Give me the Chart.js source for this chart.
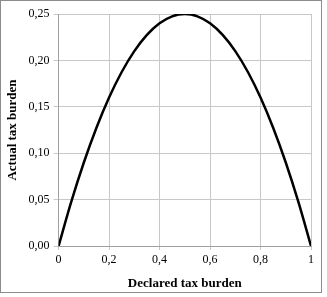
<!DOCTYPE html>
<html>
<head>
<meta charset="utf-8">
<script src="https://cdn.jsdelivr.net/npm/chart.js@4"></script>
<style>
  html, body { margin: 0; padding: 0; background: #fff; }
  #wrap { width: 322px; height: 293px; box-sizing: border-box; border: 1px solid #8c8c8c; }
</style>
</head>
<body>
<div id="wrap"><canvas id="chart" width="320" height="291"></canvas></div>
<script>
// declared tax burden (x) and actual tax burden (y)
const declared = [0, 0.05, 0.1, 0.15, 0.2, 0.25, 0.3, 0.35, 0.4, 0.45, 0.5,
                  0.55, 0.6, 0.65, 0.7, 0.75, 0.8, 0.85, 0.9, 0.95, 1];
const actual = [0, 0.0475, 0.09, 0.1275, 0.16, 0.1875, 0.21, 0.2275, 0.24, 0.2475, 0.25,
                0.2475, 0.24, 0.2275, 0.21, 0.1875, 0.16, 0.1275, 0.09, 0.0475, 0];

const points = declared.map((x, i) => ({ x: x, y: actual[i] }));
const comma = v => String(v).replace('.', ',');

Chart.defaults.font.family = '"Liberation Serif", "Times New Roman", serif';
Chart.defaults.color = '#000';

new Chart(document.getElementById('chart').getContext('2d'), {
    type: 'scatter',
    data: {
        datasets: [{
            data: points,
            showLine: true,
            borderColor: '#000',
            borderWidth: 2.5,
            pointRadius: 0,
            tension: 0.4,
            cubicInterpolationMode: 'monotone'
        }]
    },
    options: {
        responsive: false,
        animation: false,
        layout: { padding: { top: 13, right: 10, left: 4, bottom: 1 } },
        plugins: { legend: { display: false }, tooltip: { enabled: false } },
        scales: {
            x: {
                min: 0, max: 1,
                ticks: { stepSize: 0.2, font: { size: 12 }, padding: 3, callback: v => comma(Math.round(v * 10) / 10) },
                grid: { color: '#c8c8c8', tickLength: 4 },
                border: { color: '#a0a0a0' },
                title: { display: true, text: 'Declared tax burden', font: { size: 13, weight: 'bold' }, padding: { top: 5, bottom: 0 } }
            },
            y: {
                min: 0, max: 0.25,
                ticks: { stepSize: 0.05, font: { size: 12 }, padding: 4, callback: v => comma(v.toFixed(2)) },
                grid: { color: '#c8c8c8', tickLength: 5 },
                border: { color: '#a0a0a0' },
                title: { display: true, text: 'Actual tax burden', font: { size: 13, weight: 'bold' }, padding: { top: 0, bottom: 4 } }
            }
        }
    }
});
</script>
</body>
</html>
